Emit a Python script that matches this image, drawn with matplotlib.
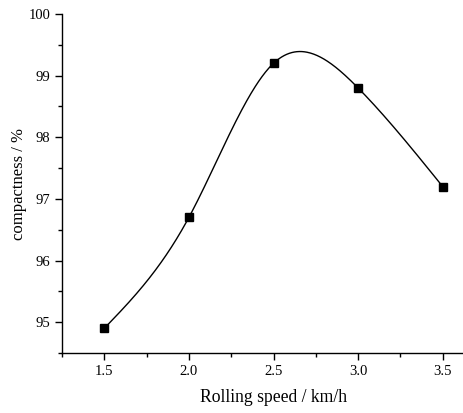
import numpy as np
import matplotlib
matplotlib.use("Agg")
import matplotlib.pyplot as plt
from matplotlib.ticker import MultipleLocator

speed = [1.5, 2.0, 2.5, 3.0, 3.5]
compactness = [94.9, 96.7, 99.2, 98.8, 97.2]


def natural_cubic_spline(x, y, xs):
    x = np.asarray(x, float)
    y = np.asarray(y, float)
    n = len(x)
    h = np.diff(x)
    A = np.zeros((n, n))
    b = np.zeros(n)
    A[0, 0] = 1
    A[-1, -1] = 1
    for i in range(1, n - 1):
        A[i, i - 1] = h[i - 1]
        A[i, i] = 2 * (h[i - 1] + h[i])
        A[i, i + 1] = h[i]
        b[i] = 3 * ((y[i + 1] - y[i]) / h[i] - (y[i] - y[i - 1]) / h[i - 1])
    c = np.linalg.solve(A, b)
    out = np.empty_like(xs)
    for k, xv in enumerate(xs):
        i = min(max(np.searchsorted(x, xv) - 1, 0), n - 2)
        dx = xv - x[i]
        bi = (y[i + 1] - y[i]) / h[i] - h[i] * (2 * c[i] + c[i + 1]) / 3
        di = (c[i + 1] - c[i]) / (3 * h[i])
        out[k] = y[i] + bi * dx + c[i] * dx ** 2 + di * dx ** 3
    return out


plt.rcParams["font.family"] = "Liberation Serif"

fig = plt.figure(figsize=(4.64, 4.13), dpi=100)
ax = fig.add_axes([62 / 464, 1 - 353 / 413, (485 - 62) / 464, (353 - 14) / 413])

xs = np.linspace(speed[0], speed[-1], 400)
ax.plot(xs, natural_cubic_spline(speed, compactness, xs), color="black", lw=1.0)
ax.plot(speed, compactness, "s", color="black", markersize=6)

ax.set_xlim(1.25, 3.75)
ax.set_ylim(94.5, 100)
ax.xaxis.set_minor_locator(MultipleLocator(0.25))
ax.yaxis.set_minor_locator(MultipleLocator(0.5))
ax.set_xticks([1.5, 2.0, 2.5, 3.0, 3.5])
ax.set_xticklabels(["1.5", "2.0", "2.5", "3.0", "3.5"])
ax.set_yticks([95, 96, 97, 98, 99, 100])

for s in ["top", "right"]:
    ax.spines[s].set_visible(False)
for s in ["left", "bottom"]:
    ax.spines[s].set_linewidth(1.0)
ax.tick_params(which="major", direction="out", length=5, width=1, labelsize=10.5)
ax.tick_params(which="minor", direction="out", length=3, width=1)

ax.set_xlabel("Rolling speed / km/h", fontsize=12.7, labelpad=8)
ax.set_ylabel("compactness / %", fontsize=12, labelpad=1)

fig.savefig("out.png", dpi=100)
